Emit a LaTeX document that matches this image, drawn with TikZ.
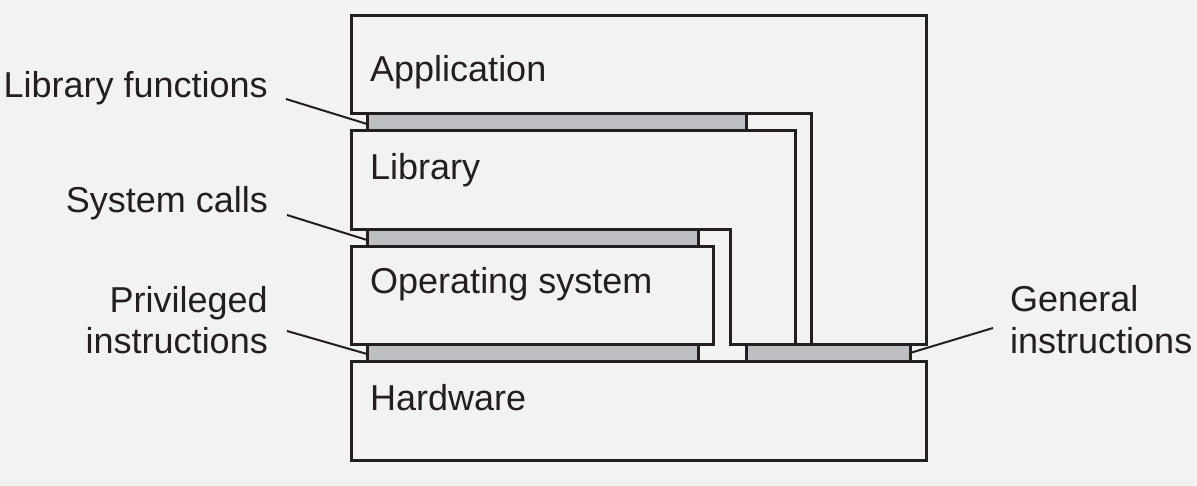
\documentclass[tikz,border=0pt]{standalone}
\usepackage{fontspec}
\setmainfont{Liberation Sans}
\definecolor{bg}{RGB}{242,242,242}
\definecolor{ink}{RGB}{35,31,32}
\definecolor{bar}{RGB}{190,191,194}
\begin{document}
\begin{tikzpicture}[x=1pt,y=-1pt,
  layer/.style={draw=ink,line width=3pt,fill=bg,line join=miter},
  iface/.style={draw=ink,line width=3pt,fill=bar},
  lbl/.style={inner sep=0pt,text=ink,font=\fontsize{36}{42}\selectfont},
  leader/.style={draw=ink,line width=2pt}]
\fill[bg] (0,0) rectangle (1197,486);
\useasboundingbox (0,0) rectangle (1197,486);
% layers
\draw[layer] (351,114) -- (351,16) -- (926,16) -- (926,345) -- (811,345) -- (811,114) -- cycle;
\draw[layer] (351,131) -- (795,131) -- (795,345) -- (730,345) -- (730,230) -- (351,230) -- cycle;
\draw[layer] (351,247) rectangle (713,345);
\draw[layer] (351,361) rectangle (926,460);
% interfaces
\draw[iface] (367,114) rectangle (746,131);
\draw[iface] (367,230) rectangle (698,247);
\draw[iface] (367,345) rectangle (698,361);
\draw[iface] (746,345) rectangle (910,361);
% layer labels
\node[lbl,anchor=base west] (app) at (370,82) {Application};
\node[lbl,anchor=base west] (lib) at (370,180) {Library};
\node[lbl,anchor=base west] (os) at (370,294) {Operating system};
\node[lbl,anchor=base west] (hw) at (370,410) {Hardware};
% interface labels
\node[lbl,anchor=base east] (lf) at (268,98) {Library functions};
\node[lbl,anchor=base east] (sc) at (268,213) {System calls};
\node[lbl,anchor=base east,align=right] (pi) at (268,354) {Privileged\\instructions};
\node[lbl,anchor=base west,align=left] (gi) at (1010,353) {General\\instructions};
% leader ends
\coordinate (lfa) at (286,99);  \coordinate (lfb) at (367,124);
\coordinate (sca) at (287,215); \coordinate (scb) at (367,240);
\coordinate (pia) at (287,331); \coordinate (pib) at (367,354);
\coordinate (gia) at (993,328); \coordinate (gib) at (910,353);
\draw[leader] (lfa) -- (lfb);
\draw[leader] (sca) -- (scb);
\draw[leader] (pia) -- (pib);
\draw[leader] (gia) -- (gib);
\end{tikzpicture}
\end{document}
